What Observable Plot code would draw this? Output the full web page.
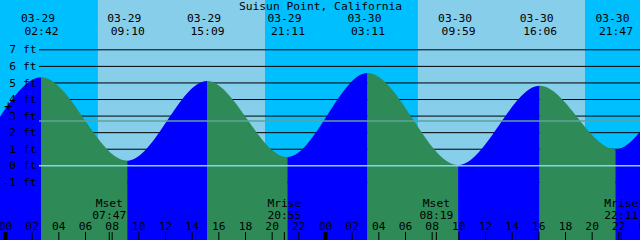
<!DOCTYPE html>
<html>
<head>
<meta charset="utf-8">
<script src="https://cdn.jsdelivr.net/npm/d3@7"></script>
<script src="https://cdn.jsdelivr.net/npm/@observablehq/plot@0.6"></script>
<style>
  html, body { margin: 0; padding: 0; background: #00BFFF; overflow: hidden; }
  #chart svg { display: block; }
</style>
</head>
<body>
<div id="chart"></div>
<script>
// ---- data ----
const title = "Suisun Point, California";
const tideTimes   = ["03-28 20:35", "03-29 02:42", "03-29 09:10", "03-29 15:09", "03-29 21:11", "03-30 03:11", "03-30 09:59", "03-30 16:06", "03-30 21:47", "03-31 03:45"];
const tideHeights = [0.6, 5.31, 0.28, 5.09, 0.5, 5.57, 0.02, 4.8, 0.97, 5.7];
const sunrises = ["03-29 06:58", "03-30 06:58"];
const sunsets  = ["03-29 19:30", "03-30 19:30"];
const moonEvents = ["Mset", "Mrise", "Mset", "Mrise"];
const moonTimes  = ["03-29 07:47", "03-29 20:55", "03-30 08:19", "03-30 22:11"];
const levelTicks = [7, 6, 5, 4, 3, 2, 1, 0, -1];
const levelLabels = ["7 ft", "6 ft", "5 ft", "4 ft", "3 ft", "2 ft", "1 ft", "0 ft", "-1 ft"];
const datumLevel = 0;
const meanLevel = 2.71;
const hourTicks = [0, 2, 4, 6, 8, 10, 12, 14, 16, 18, 20, 22, 24, 26, 28, 30, 32, 34, 36, 38, 40, 42, 44, 46, 48];
const hourLabels = ["00", "02", "04", "06", "08", "10", "12", "14", "16", "18", "20", "22", "00", "02", "04", "06", "08", "10", "12", "14", "16", "18", "20", "22", "00"];
const dayBoundaries = [0, 24, 48];
const markerTime = ["03-29 00:13"];
const markerHeight = [3.58];

// ---- helpers ----
const toHours = s => {
  const [md, hm] = s.split(" ");
  const day = +md.split("-")[1];
  const [h, m] = hm.split(":").map(Number);
  return (day - 29) * 24 + h + m / 60;
};
const xDomain = [-0.375, 47.625];
const yDomain = [-4.508, 9.976];

const extremes = tideTimes.map((t, i) => ({t: toHours(t), h: tideHeights[i], date: t.split(" ")[0], time: t.split(" ")[1]}));
const segments = [];
for (let i = 0; i < extremes.length - 1; i++) {
  const a = extremes[i], b = extremes[i + 1];
  const dir = b.h > a.h ? "rising" : "falling";
  segments.push({t: a.t, h: a.h, seg: i, dir});
  segments.push({t: b.t, h: b.h, seg: i, dir});
}
const shown = extremes.filter(d => d.t >= xDomain[0] && d.t <= xDomain[1]);
const days = sunrises.map((r, i) => ({rise: toHours(r), set: toHours(sunsets[i])}));
const moons = moonEvents.map((e, i) => ({t: toHours(moonTimes[i]), name: e, time: moonTimes[i].split(" ")[1]}));
const levels = levelTicks.map((v, i) => ({v, label: levelLabels[i]}));
const hours = hourTicks.map((v, i) => ({v, label: hourLabels[i]}));
const marker = markerTime.map((t, i) => ({t: toHours(t), h: markerHeight[i]}));

// smooth curve with flat tangents at each tide extreme
function extremaCurve(context) {
  return {
    _line: NaN, _point: 0, _x: 0, _y: 0,
    areaStart() { this._line = 0; },
    areaEnd() { this._line = NaN; },
    lineStart() { this._point = 0; },
    lineEnd() {
      if (this._line || (this._line !== 0 && this._point === 1)) context.closePath();
      this._line = 1 - this._line;
    },
    point(x, y) {
      x = +x; y = +y;
      if (this._point === 0) {
        this._point = 1;
        this._line ? context.lineTo(x, y) : context.moveTo(x, y);
      } else {
        this._point = 2;
        const dx = (x - this._x) / 3;
        context.bezierCurveTo(this._x + dx, this._y, x - dx, y, x, y);
      }
      this._x = x; this._y = y;
    }
  };
}

const font = "DejaVu Sans Mono";
const fs = 11.3;

const chart = Plot.plot({
  width: 640,
  height: 240,
  margin: 0,
  style: {background: "#00BFFF", fontFamily: font, fontSize: fs + "px", overflow: "hidden"},
  x: {type: "linear", domain: xDomain, axis: null},
  y: {type: "linear", domain: yDomain, axis: null},
  color: {domain: ["rising", "falling"], range: ["#0000FF", "#2E8B57"]},
  marks: [
    Plot.frame({fill: "#00BFFF", stroke: null}),
    Plot.rect(days, {x1: "rise", x2: "set", fill: "#87CEEB"}),
    Plot.ruleY(levels.filter(d => d.v !== datumLevel), {y: "v", stroke: "black", strokeWidth: 1, insetLeft: 39}),
    Plot.areaY(segments, {x: "t", y1: yDomain[0], y2: "h", z: "seg", fill: "dir", curve: extremaCurve, clip: true}),
    Plot.ruleY([datumLevel], {y: d => d, stroke: "#8AD2E6", strokeWidth: 1.5, insetLeft: 39}),
    Plot.ruleY([meanLevel], {y: d => d, stroke: "#5FA39A", strokeWidth: 1.5, insetLeft: 39}),
    // left level labels
    Plot.text(levels, {y: "v", text: "label", frameAnchor: "left", dx: 36, textAnchor: "end", fill: "black", fontSize: fs}),
    Plot.text(marker, {x: "t", y: "h", text: () => "+", fill: "black", fontSize: fs + 3}),
    // title
    Plot.text([title], {text: d => d, frameAnchor: "top", lineAnchor: "bottom", dy: 9.5, fill: "black", fontSize: fs}),
    // extremes labels
    Plot.text(shown, {x: "t", text: "date", frameAnchor: "top", lineAnchor: "bottom", dy: 21.5, dx: -3.5, fill: "black", fontSize: fs}),
    Plot.text(shown, {x: "t", text: "time", frameAnchor: "top", lineAnchor: "bottom", dy: 34, fill: "black", fontSize: fs}),
    // moon labels
    Plot.text(moons, {x: "t", text: "name", frameAnchor: "bottom", lineAnchor: "bottom", dy: -34, fill: "black", fontSize: fs}),
    Plot.text(moons, {x: "t", text: "time", frameAnchor: "bottom", lineAnchor: "bottom", dy: -22, fill: "black", fontSize: fs}),
    // hour ticks and labels
    Plot.tickX(hours, {x: "v", stroke: "black", strokeWidth: 1, insetTop: 232}),
    Plot.tickX(dayBoundaries, {x: d => d, stroke: "black", strokeWidth: 4, insetTop: 232}),
    Plot.tickX(moons, {x: "t", stroke: "black", strokeWidth: 1, insetTop: 232}),
    Plot.text(hours, {x: "v", text: "label", frameAnchor: "bottom", lineAnchor: "bottom", dy: -11, fill: "black", fontSize: fs})
  ]
});
document.getElementById("chart").append(chart);
</script>
</body>
</html>
